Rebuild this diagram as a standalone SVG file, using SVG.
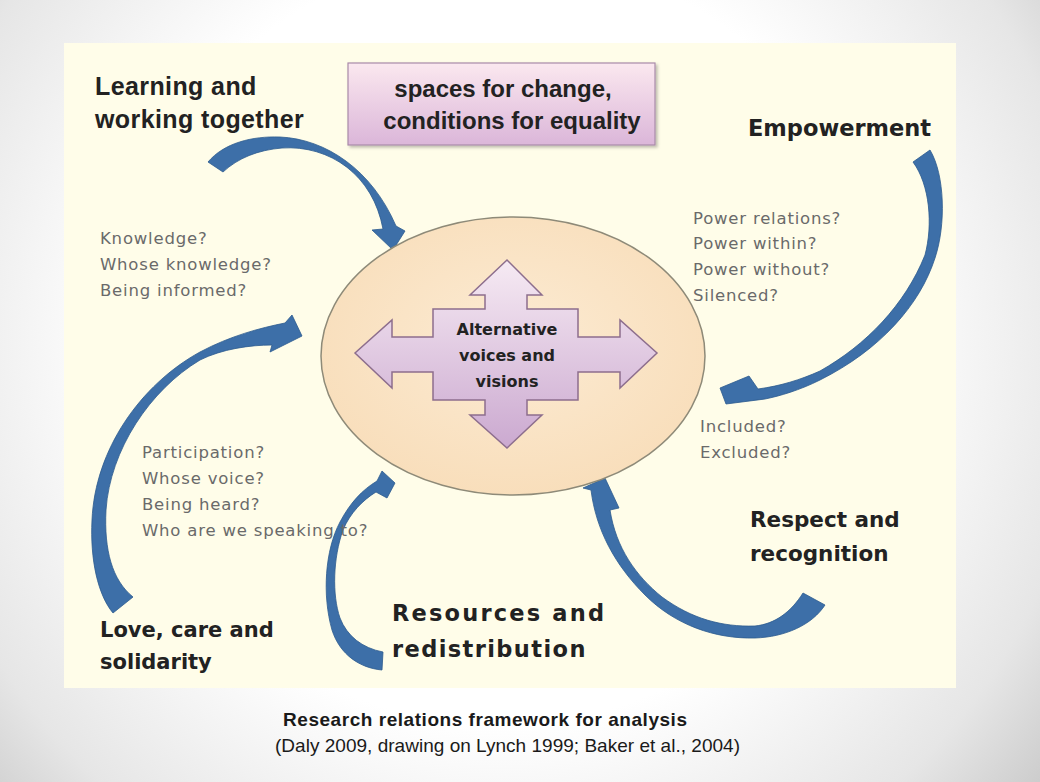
<svg xmlns="http://www.w3.org/2000/svg" width="1040" height="782" viewBox="0 0 1040 782">
<defs>
<radialGradient id="bg" gradientUnits="userSpaceOnUse" cx="500" cy="340" r="700">
<stop offset="0.55" stop-color="#ffffff"/>
<stop offset="0.85" stop-color="#e6e6e6"/>
<stop offset="1" stop-color="#cccccc"/>
</radialGradient>
<linearGradient id="boxg" x1="0" y1="0" x2="0" y2="1">
<stop offset="0" stop-color="#fbe8ef"/>
<stop offset="1" stop-color="#dbb6d9"/>
</linearGradient>
<linearGradient id="crossg" x1="0" y1="0" x2="0" y2="1">
<stop offset="0" stop-color="#f6eaf3"/>
<stop offset="1" stop-color="#cba9d0"/>
</linearGradient>
<radialGradient id="ellg" cx="0.5" cy="0.45" r="0.6">
<stop offset="0" stop-color="#fcebd3"/>
<stop offset="1" stop-color="#f8ddb9"/>
</radialGradient>
<filter id="sh" x="-10%" y="-10%" width="130%" height="140%">
<feDropShadow dx="2" dy="2" stdDeviation="1.5" flood-color="#000" flood-opacity="0.25"/>
</filter>
</defs>
<style>
.head{font-family:"DejaVu Sans",sans-serif;font-weight:bold;fill:#222}
.headc{font-family:"Liberation Sans",Arial,sans-serif;font-weight:bold;fill:#222}
.q{font-family:"DejaVu Sans",sans-serif;font-size:16.5px;fill:#6a6a6a;letter-spacing:0.8px}
.arr{fill:#3d6fa8;stroke:#2c5a8e;stroke-width:0.8;stroke-linejoin:round}
.cap{font-family:"Liberation Sans",Arial,sans-serif;font-size:19px;fill:#1a1a1a}
</style>
<rect width="1040" height="782" fill="url(#bg)"/>
<rect x="64" y="43" width="892" height="645" fill="#fffde9"/>

<g id="connectors">
<path class="arr" d="M208,162 C224,143 252,136 280,137 C326,139 372,170 396,226 L405,231 L393,250 L372,230 L383,229 C373,175 330,145 282,148 C258,150 238,158 223,172 Z"/>
<path class="arr" d="M913,162 L930,150 C945,175 946,225 935,258 C920,305 880,350 820,380 C800,390 780,396 765,399 L726,404 L720,388 L749,376 L758,389 C780,386 800,380 820,371 C866,345 905,305 925,255 C933,225 930,185 913,162 Z"/>
<path class="arr" d="M113,613 C98,595 90,560 92,520 C95,450 140,385 200,352 C230,336 260,328 285,323 L292,315 L302,336 L270,352 L272,345 C250,345 222,349 200,360 C150,390 110,450 106,510 C104,550 112,580 133,597 Z"/>
<path class="arr" d="M382,670 C360,668 340,655 332,630 C322,595 325,550 340,522 C350,503 362,490 377,481 L382,471 L395,483 L387,498 L376,492 C363,500 350,513 343,530 C333,558 332,595 340,618 C347,636 362,648 383,652 Z"/>
<path class="arr" d="M825,605 C812,625 785,637 755,638 C715,639 675,625 645,595 C615,565 596,530 591,490 L583,488 L605,478 L619,508 L610,510 C616,548 636,576 662,597 C692,619 722,627 755,626 C775,624 791,612 803,593 Z"/>
</g>

<g id="center">
<ellipse cx="513" cy="356" rx="192" ry="139" fill="url(#ellg)" stroke="#8e8a78" stroke-width="1.5"/>
<path d="M507,260 L542,295 L527,295 L527,309 L578,309 L578,337 L620,337 L620,320 L657,353 L620,388 L620,372 L578,372 L578,400 L527,400 L527,415 L542,415 L507,448 L470,415 L485,415 L485,400 L433,400 L433,372 L392,372 L392,388 L355,353 L392,320 L392,337 L433,337 L433,309 L485,309 L485,295 L470,295 Z" fill="url(#crossg)" stroke="#8d6e8d" stroke-width="1.5" stroke-linejoin="miter"/>
<text class="head" font-size="16" fill="#333" text-anchor="middle"><tspan x="507" y="335">Alternative</tspan><tspan x="507" y="361">voices and</tspan><tspan x="507" y="387">visions</tspan></text>
</g>

<g id="title">
<rect x="348" y="63" width="307" height="82" fill="url(#boxg)" stroke="#a98aa8" stroke-width="1.2" filter="url(#sh)"/>
<text class="headc" font-size="24" text-anchor="middle"><tspan x="503" y="97">spaces for change,</tspan><tspan x="512" y="129">conditions for equality</tspan></text>
</g>

<g id="learning">
<text class="headc" font-size="25" letter-spacing="0.4"><tspan x="95" y="95">Learning and</tspan><tspan x="95" y="128">working together</tspan></text>
</g>
<g id="empowerment">
<text class="head" font-size="22.5" x="748" y="136">Empowerment</text>
</g>
<g id="respect">
<text class="head" font-size="21.5"><tspan x="750" y="527">Respect and</tspan><tspan x="750" y="561">recognition</tspan></text>
</g>
<g id="resources">
<text class="head" font-size="22.5"><tspan x="392" y="621" letter-spacing="2.2">Resources and</tspan><tspan x="392" y="657" letter-spacing="1.4">redistribution</tspan></text>
</g>
<g id="love">
<text class="head" font-size="21"><tspan x="100" y="637">Love, care and</tspan><tspan x="100" y="669">solidarity</tspan></text>
</g>

<g id="q-knowledge">
<text class="q"><tspan x="100" y="244">Knowledge?</tspan><tspan x="100" y="270">Whose knowledge?</tspan><tspan x="100" y="296">Being informed?</tspan></text>
</g>
<g id="q-power">
<text class="q"><tspan x="693" y="224">Power relations?</tspan><tspan x="693" y="249">Power within?</tspan><tspan x="693" y="275">Power without?</tspan><tspan x="693" y="301">Silenced?</tspan></text>
</g>
<g id="q-included">
<text class="q"><tspan x="700" y="432">Included?</tspan><tspan x="700" y="458">Excluded?</tspan></text>
</g>
<g id="q-participation">
<text class="q"><tspan x="142" y="458">Participation?</tspan><tspan x="142" y="484">Whose voice?</tspan><tspan x="142" y="510">Being heard?</tspan><tspan x="142" y="536">Who are we speaking to?</tspan></text>
</g>

<g id="caption">
<text class="cap" font-weight="bold" x="283" y="726" textLength="404" lengthAdjust="spacing">Research relations framework for analysis</text>
<text class="cap" x="275" y="752" textLength="465" lengthAdjust="spacing">(Daly 2009, drawing on Lynch 1999; Baker et al., 2004)</text>
</g>
</svg>
